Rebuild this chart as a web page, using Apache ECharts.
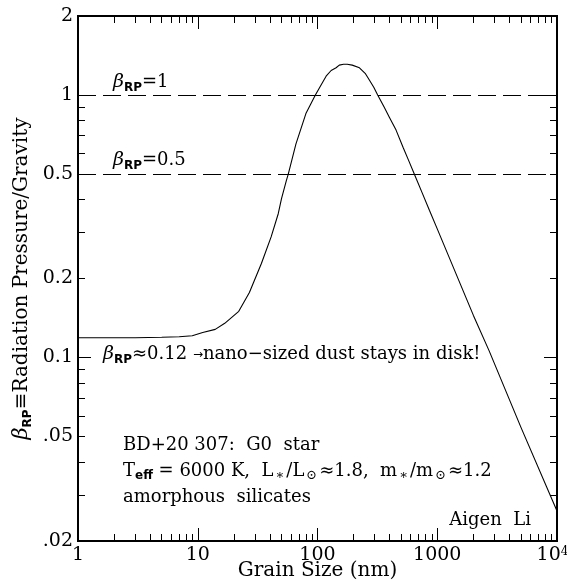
<!DOCTYPE html>
<html><head><meta charset="utf-8">
<script src="https://cdn.jsdelivr.net/npm/echarts@6/dist/echarts.min.js"></script>
<style>html,body{margin:0;padding:0;background:#fff}#c{width:567px;height:581px}</style>
</head><body><div id="c"></div>
<script>
const grainSize = [1, 2, 3, 5, 7, 9, 11, 14, 16.8, 22, 27, 34, 41, 47, 50, 55, 57, 66, 80, 96, 108, 118, 130, 143, 152, 165, 177, 195, 224, 250, 271, 295, 318, 360, 400, 453, 520, 580, 643, 750, 860, 1000, 2000, 2713, 5000, 10000];
const beta = [0.119, 0.119, 0.119, 0.1195, 0.120, 0.121, 0.1245, 0.128, 0.135, 0.150, 0.177, 0.228, 0.288, 0.353, 0.402, 0.473, 0.5, 0.65, 0.85, 1.0, 1.10, 1.18, 1.24, 1.27, 1.30, 1.31, 1.31, 1.30, 1.27, 1.21, 1.14, 1.07, 1.0, 0.90, 0.82, 0.735, 0.63, 0.56, 0.5, 0.423, 0.364, 0.309, 0.145, 0.106, 0.0542, 0.026];
const refLevels = [1, 0.5];
const xMajorTicks = [1, 10, 100, 1000, 10000];
const xMinorTicks = [2,3,4,5,6,7,8,9,20,30,40,50,60,70,80,90,200,300,400,500,600,700,800,900,2000,3000,4000,5000,6000,7000,8000,9000];
const yTickLabels = [0.02, 0.05, 0.1, 0.2, 0.5, 1, 2];
const yMajorTicks = [0.1, 1];
const yMinorTicks = [0.02,0.03,0.04,0.05,0.06,0.07,0.08,0.09,0.2,0.3,0.4,0.5,0.6,0.7,0.8,0.9,2];

const SERIF = 'DejaVu Serif';
const SANS = 'DejaVu Sans';
const black = '#000';

function xAx(pos, ticks, len, labels, extra) {
  return Object.assign({
    type: 'log', logBase: 10, min: 1, max: 10000, position: pos,
    axisLine: {show: true, onZero: false, lineStyle: {color: black, width: 2}},
    axisTick: {show: true, inside: true, length: len, customValues: ticks, lineStyle: {color: black, width: 1}},
    axisLabel: labels ? {
      show: true, customValues: xMajorTicks, color: black, fontFamily: SERIF, fontSize: 19, margin: 5,
      hideOverlap: false,
      formatter: v => (Math.abs(v - 10000) < 1e-6 ? '{n|10}{s|4}' : String(Math.round(v))),
      rich: {n: {fontFamily: SERIF, fontSize: 19, color: black},
             s: {fontFamily: SERIF, fontSize: 12, color: black, verticalAlign: 'top', lineHeight: 12, padding: [0, 9, 0, 0]}}
    } : {show: false},
    splitLine: {show: false}
  }, extra || {});
}
function yAx(pos, ticks, len, labels, extra) {
  return Object.assign({
    type: 'log', logBase: 10, min: 0.02, max: 2, position: pos,
    axisLine: {show: true, onZero: false, lineStyle: {color: black, width: 2}},
    axisTick: {show: true, inside: true, length: len, customValues: ticks, lineStyle: {color: black, width: 1}},
    axisLabel: labels ? {
      show: true, customValues: yTickLabels, color: black, fontFamily: SERIF, fontSize: 19, margin: 5,
      formatter: v => { let s = String(+v.toPrecision(3)); return v < 0.1 ? s.replace(/^0\./, '.') : s; }
    } : {show: false},
    splitLine: {show: false}
  }, extra || {});
}

const subStyle = {fontFamily: SANS, fontWeight: 'bold', fontSize: 12, color: black, verticalAlign: 'bottom', lineHeight: 12};
const mainStyle = {fontFamily: SERIF, fontSize: 18, color: black, lineHeight: 22};
const betaStyle = {fontFamily: SERIF, fontStyle: 'italic', fontSize: 19, color: black, lineHeight: 22};
const richAll = {
  t: mainStyle, b: betaStyle, s: subStyle,
  a: {fontFamily: SANS, fontSize: 12, color: black, lineHeight: 22},
  ss: {fontFamily: SERIF, fontSize: 13, color: black, verticalAlign: 'bottom', lineHeight: 12, padding: [0, 2, 0, 2]}
};
const richTitle = {
  t: {fontFamily: SERIF, fontSize: 20, color: black, lineHeight: 24},
  b: {fontFamily: SERIF, fontStyle: 'italic', fontSize: 21, color: black, lineHeight: 24},
  s: {fontFamily: SANS, fontWeight: 'bold', fontSize: 12, color: black, verticalAlign: 'bottom', lineHeight: 13}
};

function txt(text, pos) {
  return Object.assign({type: 'text', z: 10, style: {text: text, rich: richAll, fill: black, fontFamily: SERIF, fontSize: 18}}, pos);
}

const option = {
  animation: false,
  backgroundColor: '#fff',
  grid: {left: 78, right: 10, top: 16, bottom: 40, containLabel: false, outerBoundsMode: 'none'},
  xAxis: [
    xAx('bottom', xMajorTicks, 13, true, {
      name: 'Grain Size (nm)', nameLocation: 'middle', nameGap: 20, nameMoveOverlap: false,
      nameTextStyle: {fontFamily: SERIF, fontSize: 20, color: black}
    }),
    xAx('bottom', xMinorTicks, 7, false),
    xAx('top', xMajorTicks, 13, false),
    xAx('top', xMinorTicks, 7, false)
  ],
  yAxis: [
    yAx('left', yMajorTicks, 13, true, {
      name: '{b|β}{s|RP}{t|≡Radiation Pressure/Gravity}', nameLocation: 'middle', nameGap: 44, nameRotate: 90,
      nameMoveOverlap: false,
      nameTextStyle: {fontFamily: SERIF, fontSize: 20, color: black, rich: richTitle}
    }),
    yAx('left', yMinorTicks, 7, false),
    yAx('right', yMajorTicks, 13, false),
    yAx('right', yMinorTicks, 7, false)
  ],
  series: [{
    type: 'line', xAxisIndex: 0, yAxisIndex: 0,
    data: grainSize.map((g, i) => [g, beta[i]]),
    showSymbol: false, symbol: 'none', smooth: false,
    lineStyle: {color: black, width: 1.1},
    markLine: {
      silent: true, symbol: ['none', 'none'], label: {show: false},
      lineStyle: {color: black, width: 1.2, type: [18, 7]},
      data: refLevels.map(v => ({yAxis: v}))
    }
  }],
  graphic: [
    txt('{b|β}{s|RP}{t|=1}', {left: 113, top: 73}),
    txt('{b|β}{s|RP}{t|=0.5}', {left: 113, top: 151}),
    txt('{b|β}{s|RP}{t|≈0.12 }{a|→}{t|nano−sized dust stays in disk!}', {left: 103, top: 345}),
    txt('{t|BD+20 307:  G0  star}', {left: 123, top: 436}),
    txt('{t|T}{s|eff}{t| = 6000 K,  L}{ss|∗}{t|/L}{ss|⊙}{t|≈1.8,  m}{ss|∗}{t|/m}{ss|⊙}{t|≈1.2}', {left: 123, top: 462}),
    txt('{t|amorphous  silicates}', {left: 123, top: 488}),
    txt('{t|Aigen  Li}', {right: 36, top: 511})
  ]
};
const chart = echarts.init(document.getElementById('c'), null, {renderer: 'canvas'});
chart.setOption(option);
</script></body></html>
